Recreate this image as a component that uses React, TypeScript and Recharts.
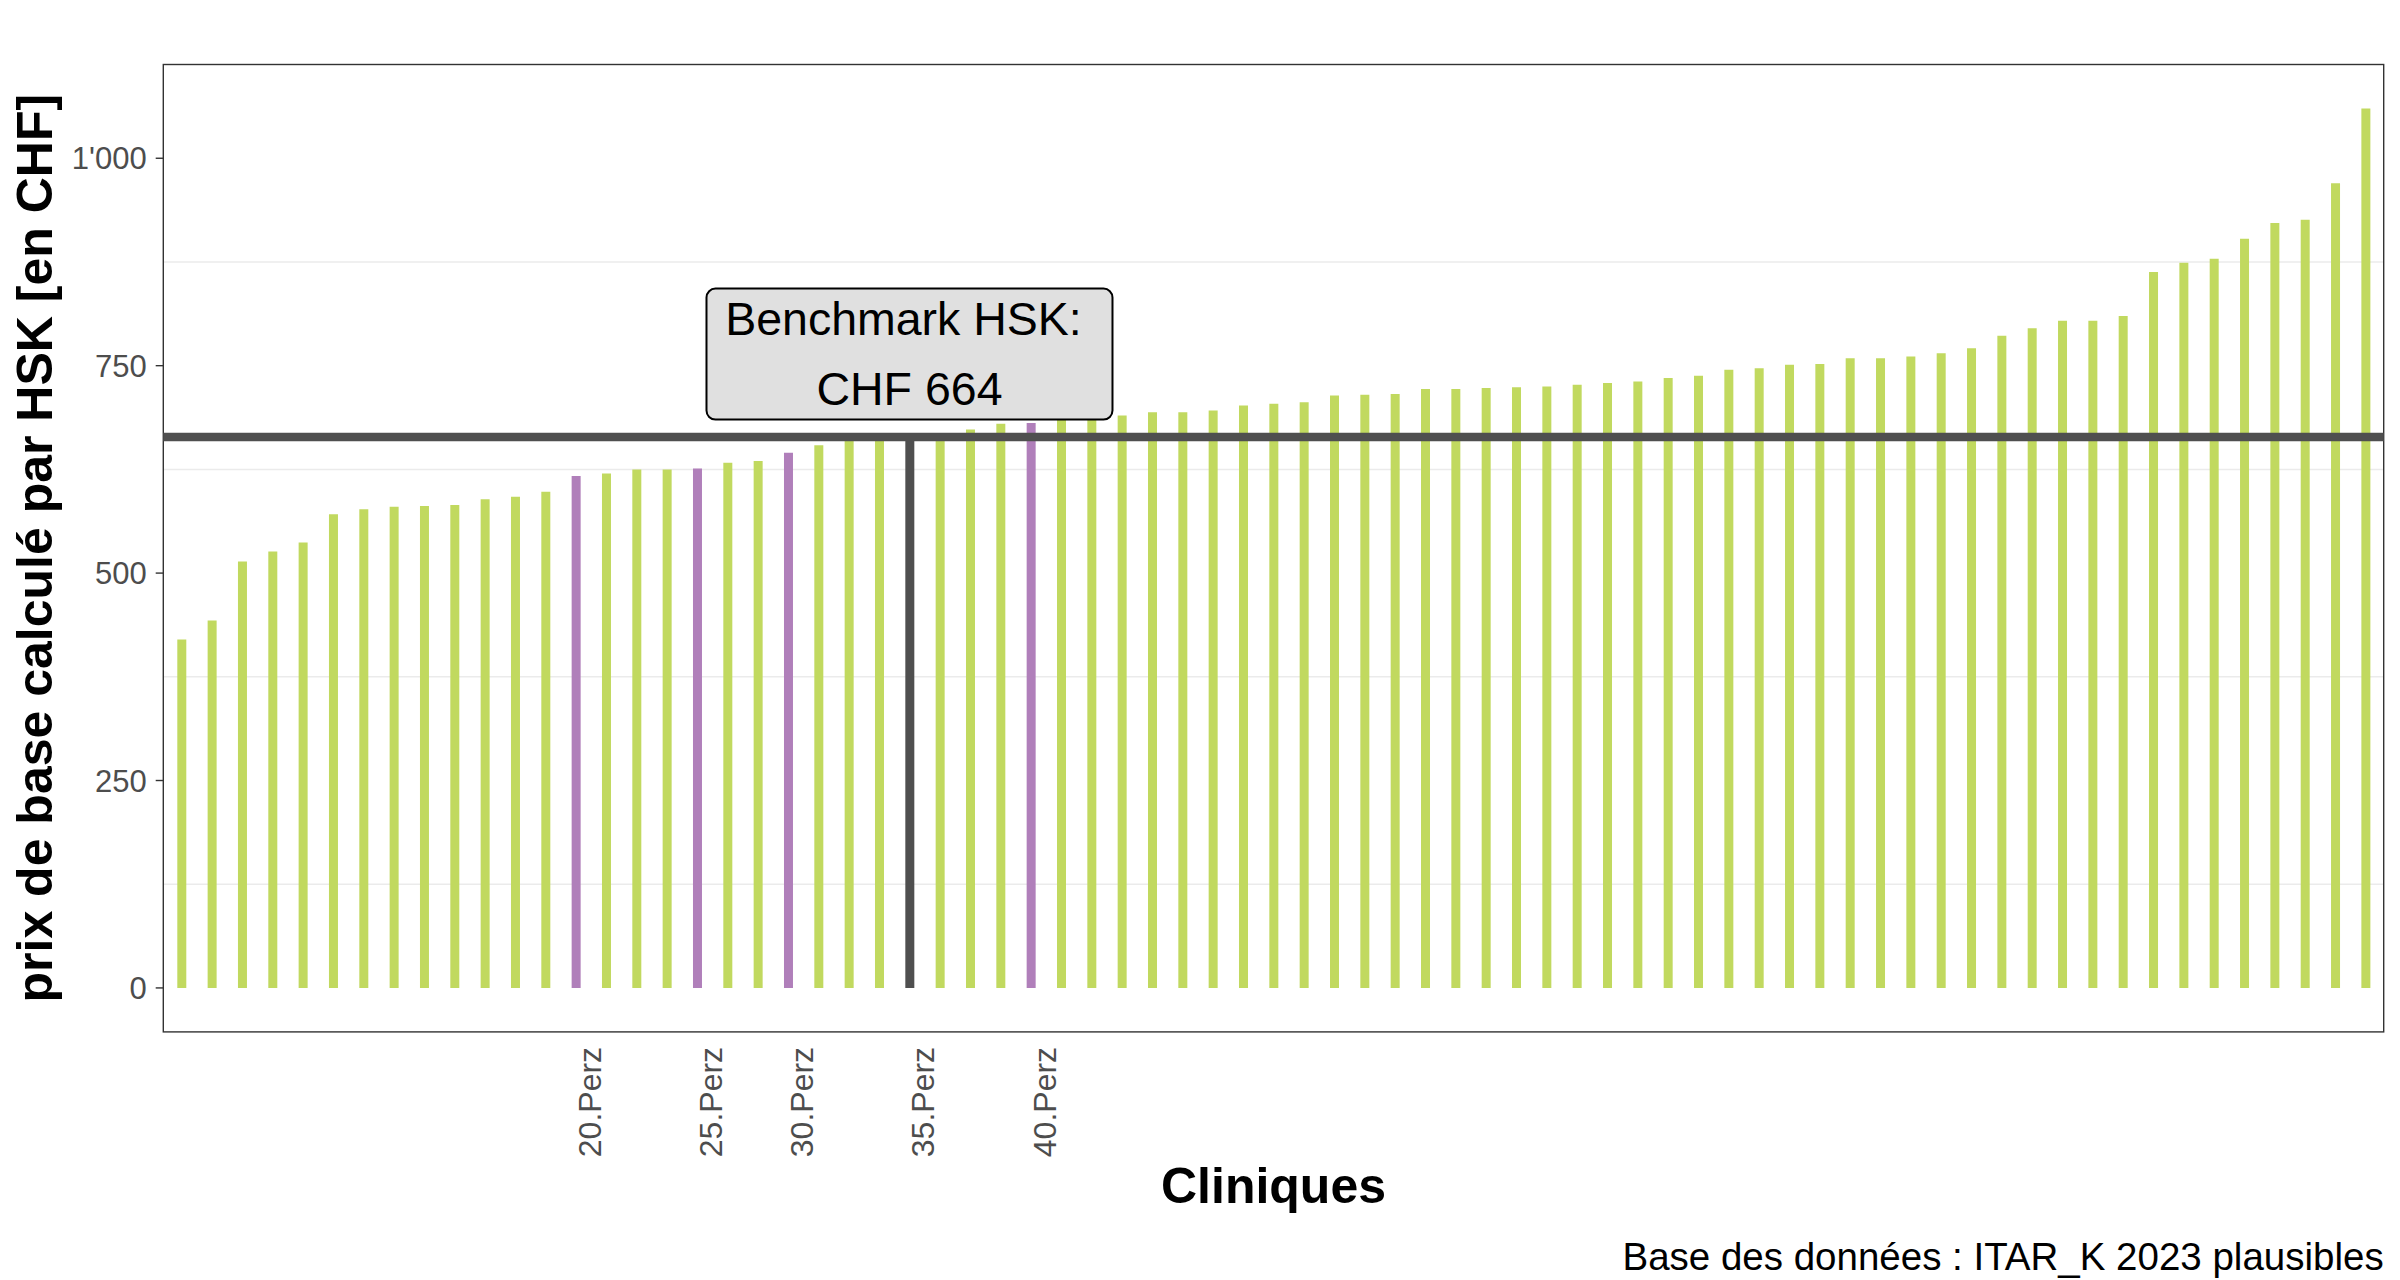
import React from 'react'
import {
  BarChart,
  Bar,
  Cell,
  XAxis,
  YAxis,
  CartesianGrid,
  ReferenceLine,
  ReferenceDot,
  Customized,
} from 'recharts'

// prix de base par clinique, trié
const values = [
  420, 443, 514, 526, 537, 571, 577, 580, 581, 582, 589, 592, 598, 617, 620, 625, 625, 626, 633, 635,
  645, 654, 660, 662, 664, 667, 673, 680, 681, 686, 688, 690, 694, 694, 696, 702, 704, 706, 714, 715,
  716, 722, 722, 723, 724, 725, 727, 729, 731, 735, 738, 745, 747, 751, 752, 759, 759, 761, 765, 771,
  786, 795, 804, 804, 810, 863, 874, 879, 903, 922, 926, 970, 1060,
]
const clinics = values.map((_, i) => `K${i + 1}`)
const percentileIndex = [13, 17, 20, 24, 28]
const percentileLabels = ['20.Perz', '25.Perz', '30.Perz', '35.Perz', '40.Perz']
const benchmarkIndex = 24
const benchmark = 664
const benchmarkLabelY = 764
const yTicks = [0, 250, 500, 750, 1000]
const gridValues = [125, 375, 625, 875]

const data = clinics.map((name, i) => ({ name, value: values[i] }))

const FONT = '"Liberation Sans", Arial, sans-serif'
const GREEN = '#C1D95F'
const PURPLE = '#B07FBA'
const DARK = '#4F4F4F'

const W = 2400
const H = 1280
const M = { top: 64.5, right: 16.3, bottom: 0, left: 0 }
const Y_W = 163.3
const X_H = 248.1

const colorFor = (i: number) =>
  i === benchmarkIndex ? DARK : percentileIndex.includes(i) ? PURPLE : GREEN

const fmt = (v: number) => String(v).replace(/\B(?=(\d{3})+(?!\d))/g, "'")

function PercTick({ x, y, payload }: any) {
  const k = percentileIndex.indexOf(clinics.indexOf(payload.value))
  if (k < 0) return <g />
  return (
    <text
      transform={`translate(${x + 25},${y + 15}) rotate(-90)`}
      textAnchor="end"
      fontSize={32}
      fill="#4D4D4D"
      fontFamily={FONT}
    >
      {percentileLabels[k]}
    </text>
  )
}

function YTitle({ viewBox }: any) {
  const cy = viewBox.y + viewBox.height / 2
  return (
    <text
      transform={`translate(51.7,${cy}) rotate(-90)`}
      textAnchor="middle"
      fontSize={50}
      fontWeight="bold"
      fill="#000"
      fontFamily={FONT}
    >
      prix de base calculé par HSK [en CHF]
    </text>
  )
}

function XTitle({ viewBox }: any) {
  return (
    <text
      x={viewBox.x + viewBox.width / 2}
      y={viewBox.y + 171}
      textAnchor="middle"
      fontSize={50}
      fontWeight="bold"
      fill="#000"
      fontFamily={FONT}
    >
      Cliniques
    </text>
  )
}

function BenchmarkBox({ cx, cy }: any) {
  const w = 406
  const h = 131
  return (
    <g>
      <rect x={cx - w / 2} y={cy - h / 2} width={w} height={h} rx={9} fill="#E0E0E0" stroke="#000" strokeWidth={2} />
      <text x={cx - 6} y={cy - 18.7} textAnchor="middle" fontSize={46.5} fill="#000" fontFamily={FONT}>
        Benchmark HSK:
      </text>
      <text x={cx} y={cy + 50.6} textAnchor="middle" fontSize={46.5} fill="#000" fontFamily={FONT}>
        {`CHF ${benchmark}`}
      </text>
    </g>
  )
}

function Frame() {
  const pw = W - M.right - Y_W
  const ph = H - X_H - M.top
  return (
    <g>
      <rect x={Y_W} y={M.top} width={pw} height={ph} fill="none" stroke="#333333" strokeWidth={1.4} />
      <text x={W - M.right} y={1270} textAnchor="end" fontSize={38.5} fill="#000" fontFamily={FONT}>
        Base des données : ITAR_K 2023 plausibles
      </text>
    </g>
  )
}

export default function App() {
  return (
    <div style={{ position: 'absolute', left: 0, top: 0, width: W, height: H, background: '#fff' }}>
      <BarChart width={W} height={H} data={data} margin={M}>
        <CartesianGrid vertical={false} horizontalValues={gridValues} stroke="#EBEBEB" strokeWidth={1.5} />
        <XAxis
          dataKey="name"
          interval={0}
          height={X_H}
          padding={{ left: 3, right: 3 }}
          tickLine={false}
          axisLine={false}
          tickSize={0}
          tickMargin={0}
          tick={<PercTick />}
          label={<XTitle />}
        />
        <YAxis
          width={Y_W}
          domain={[-53, 1113]}
          allowDataOverflow
          ticks={yTicks}
          tickFormatter={fmt}
          axisLine={false}
          tickSize={7.6}
          tickMargin={9}
          tickLine={{ stroke: '#333333', strokeWidth: 1.4 }}
          tick={{ fill: '#4D4D4D', fontSize: 31, fontFamily: FONT }}
          label={<YTitle />}
        />
        <Bar dataKey="value" barSize={9} isAnimationActive={false}>
          {data.map((d, i) => (
            <Cell key={d.name} fill={colorFor(i)} />
          ))}
        </Bar>
        <ReferenceLine y={benchmark} stroke={DARK} strokeWidth={8.4} />
        <ReferenceDot
          x={clinics[benchmarkIndex]}
          y={benchmarkLabelY}
          r={0}
          shape={(p: any) => <BenchmarkBox {...p} />}
        />
        <Customized component={<Frame />} />
      </BarChart>
    </div>
  )
}
